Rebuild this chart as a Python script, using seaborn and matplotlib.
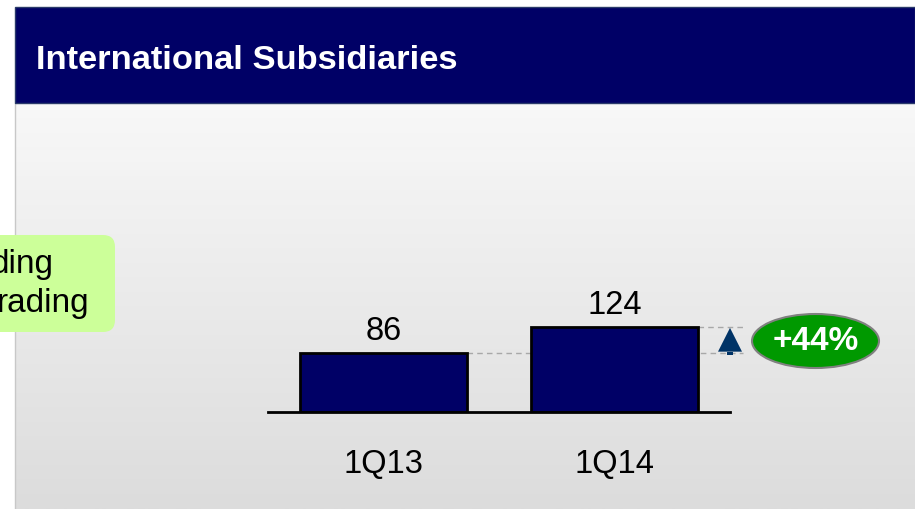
import numpy as np
import pandas as pd
import matplotlib
matplotlib.use("Agg")
import matplotlib.pyplot as plt
from matplotlib.patches import Rectangle, Ellipse, FancyBboxPatch, Polygon
import seaborn as sns

# Quarterly figures
quarters = ["1Q13", "1Q14"]
values = [86, 124]
title_text = "International Subsidiaries"
side_lines = ["ding", "rading"]

NAVY = "#000066"
GREEN = "#009900"
LIME = "#ccff99"
ARROW = "#003366"

sns.set_theme(style="white")
plt.rcParams["font.family"] = ["Liberation Sans", "DejaVu Sans"]

W, H = 915, 509
fig = plt.figure(figsize=(W / 100, H / 100), dpi=100)
fig.patch.set_facecolor("white")

# Background layer in pixel coordinates
bg = fig.add_axes([0, 0, 1, 1])
bg.set_xlim(0, W)
bg.set_ylim(H, 0)
bg.axis("off")

# Panel with soft vertical gradient
grad = np.linspace(0, 1, 256).reshape(-1, 1)
top_c = np.array([0xf8, 0xf8, 0xf8]) / 255
bot_c = np.array([0xdc, 0xdc, 0xdc]) / 255
img = top_c[None, None, :] * (1 - grad[..., None]) + bot_c[None, None, :] * grad[..., None]
bg.imshow(img, extent=(15, W, H, 103), aspect="auto", zorder=0)
bg.plot([15, 15], [103, H], color="#c8c8c8", lw=1, zorder=1)

# Header band
bg.add_patch(Rectangle((15, 7), W - 15, 96, facecolor=NAVY, edgecolor="#2a3a6a", lw=1, zorder=2))
bg.text(36, 69, title_text, color="white", fontsize=24.8, fontweight="bold",
        ha="left", va="baseline", zorder=3)

# Side note box, partly outside the frame
bg.add_patch(FancyBboxPatch((-30, 235), 145, 97, boxstyle="round,pad=0,rounding_size=12",
                            facecolor=LIME, edgecolor="none", zorder=2))
bg.text(54, 273, side_lines[0], fontsize=24, color="black", ha="right", va="baseline", zorder=3)
bg.text(89, 312, side_lines[1], fontsize=24, color="black", ha="right", va="baseline", zorder=3)

# Bar chart axes: x in category units, y in value units
left_px, base_px, width_px = 268, 411.5, 462
ymax = 150
px_per_unit = 0.68
ax = fig.add_axes([left_px / W, (H - base_px) / H, width_px / W, ymax * px_per_unit / H])
ax.patch.set_alpha(0)

df = pd.DataFrame({"quarter": quarters, "value": values})
sns.barplot(data=df, x="quarter", y="value", color=NAVY, edgecolor="black",
            linewidth=2, width=0.72, saturation=1, ax=ax, zorder=3)
ax.set_xlim(-0.5, 1.5)
ax.set_ylim(0, ymax)
ax.set_xlabel("")
ax.set_ylabel("")
ax.set_yticks([])
for s in ["left", "right", "top"]:
    ax.spines[s].set_visible(False)
ax.spines["bottom"].set_color("black")
ax.spines["bottom"].set_linewidth(2)
ax.spines["bottom"].set_zorder(4)
ax.tick_params(axis="x", length=0, pad=27, labelsize=23.5, labelcolor="black")

ax.bar_label(ax.containers[0], labels=[str(v) for v in values], padding=4.5,
             fontsize=23.5, color="black", clip_on=False)

# Dashed guides from bar tops to the growth marker
half = 0.36
x_end = 1.555
ax.plot([half, x_end], [values[0], values[0]], ls=(0, (4, 3)), color="#a8a8a8",
        lw=1, clip_on=False, zorder=2)
ax.plot([1 + half, x_end], [values[1], values[1]], ls=(0, (4, 3)), color="#a8a8a8",
        lw=1, clip_on=False, zorder=2)

# Upward arrow between the two levels
tri = Polygon([[1.448, values[0] + 2], [1.552, values[0] + 2], [1.5, values[1] - 1]],
              closed=True, facecolor=ARROW, edgecolor="none", clip_on=False, zorder=5)
ax.add_patch(tri)
ax.add_patch(Rectangle((1.485, values[0] - 2.5), 0.03, 4.5, facecolor=ARROW,
                       edgecolor="none", clip_on=False, zorder=5))

# Growth badge
growth = round((values[1] / values[0] - 1) * 100)
bg.add_patch(Ellipse((815.5, 341), 127, 54, facecolor=GREEN, edgecolor="#808080", lw=1.5, zorder=4))
bg.text(816, 342, f"+{growth}%", color="white", fontsize=24, fontweight="bold",
        ha="center", va="center", zorder=5)

fig.savefig("out.png", dpi=100)
